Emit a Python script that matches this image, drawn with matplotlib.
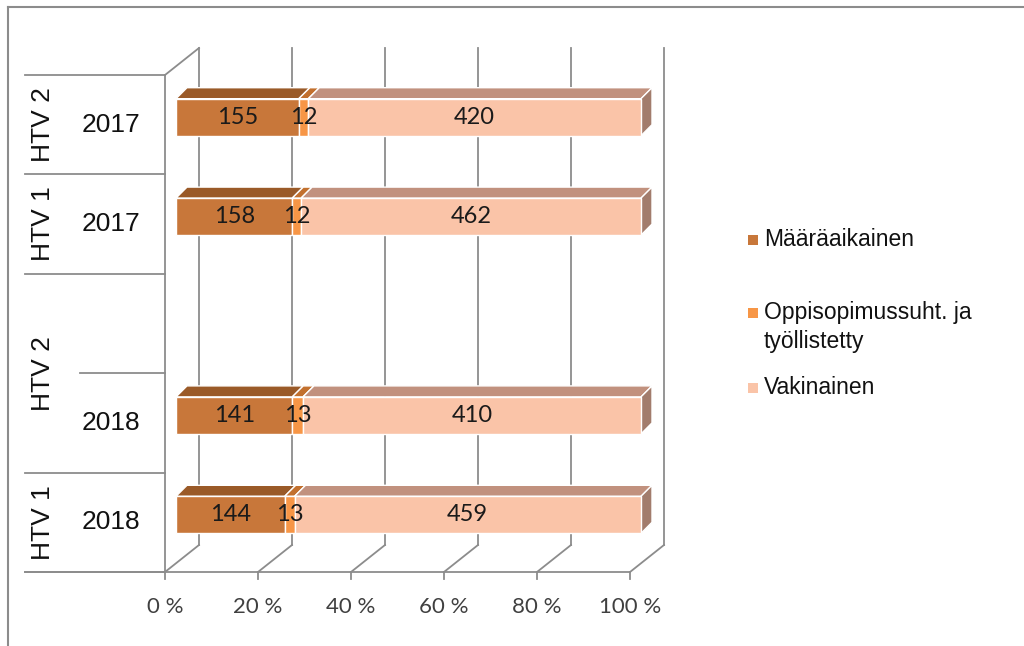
import numpy as np
import matplotlib.pyplot as plt
from matplotlib.patches import Polygon, Rectangle
from matplotlib.lines import Line2D

# categories, top to bottom (the third slot is an empty HTV 2 row)
groups = ["HTV 2", "HTV 1", "HTV 2", "HTV 2", "HTV 1"]
years = ["2017", "2017", "", "2018", "2018"]

series = ["Määräaikainen", "Oppisopimussuht. ja\ntyöllistetty", "Vakinainen"]
maaraaikainen = [155, 158, np.nan, 141, 144]
oppisopimus = [12, 12, np.nan, 13, 13]
vakinainen = [420, 462, np.nan, 410, 459]

pct_ticks = [0, 20, 40, 60, 80, 100]
pct_labels = ["0 %", "20 %", "40 %", "60 %", "80 %", "100 %"]

front_cols = ["#C8773A", "#F79646", "#FAC4A8"]
top_cols = ["#9A5A28", "#C2702E", "#C1917E"]
side_col = "#A27C6C"
grid_col = "#8C8C8C"

W, H = 1024, 646
fig = plt.figure(figsize=(W / 100, H / 100), dpi=100)
ax = fig.add_axes([165 / W, 74 / H, 465 / W, 497 / H])
n = len(years)
ax.set_xlim(0, 100)
ax.set_ylim(0, n)
ax.axis("off")

# pixel -> data unit helpers
DX = 100 / 465
DY = n / 497
wall_dx, wall_dy = 34 * DX, 27 * DY      # full depth of the 3d box
bar_x0, bar_y0 = 11 * DX, 7.5 * DY      # bar front face offset
bar_dx, bar_dy = 11 * DX, 11 * DY       # bar thickness
half_h = 18.5 * DY

line_kw = dict(color=grid_col, lw=1.3, clip_on=False, zorder=1)

# back wall gridlines and floor
for t in pct_ticks:
    ax.plot([t + wall_dx] * 2, [wall_dy, n + wall_dy], **line_kw)
    ax.plot([t, t + wall_dx], [0, wall_dy], **line_kw)
    ax.plot([t, t], [0, -7 * DY], **line_kw)
ax.plot([0, 0], [0, n], **line_kw)
ax.plot([0, wall_dx], [n, n + wall_dy], **line_kw)
ax.plot([-140 * DX, 100], [0, 0], **line_kw)

for t, lab in zip(pct_ticks, pct_labels):
    ax.text(t, -35 * DY, lab, ha="center", va="center", fontsize=16,
            family="Lato", color="#404040")

# category table on the left
for i in range(n + 1):
    y = n - i
    x_start = -140 * DX
    if 0 < i < n and groups[i - 1] == groups[i]:
        x_start = -85 * DX
    ax.plot([x_start, 0], [y, y], **line_kw)

for i, yr in enumerate(years):
    if yr:
        ax.text(-54 * DX, n - i - 0.5, yr, ha="center", va="center",
                fontsize=19, family="Liberation Sans", color="#111111")

i = 0
while i < n:
    j = i
    while j + 1 < n and groups[j + 1] == groups[i]:
        j += 1
    yc = n - (i + j + 1) / 2
    ax.text(-122 * DX, yc, groups[i], ha="center", va="center", rotation=90,
            fontsize=19, family="Liberation Sans", color="#111111")
    i = j + 1

# stacked 100 % bars
data = np.array([maaraaikainen, oppisopimus, vakinainen], dtype=float)
totals = data.sum(axis=0)
for i in range(n):
    if np.isnan(totals[i]):
        continue
    yc = n - i - 0.5 + bar_y0
    yb, yt = yc - half_h, yc + half_h
    left = 0.0
    for k in range(3):
        w = data[k, i] / totals[i] * 100
        x0 = left + bar_x0
        x1 = x0 + w
        ax.add_patch(Polygon([(x0, yt), (x1, yt), (x1 + bar_dx, yt + bar_dy),
                              (x0 + bar_dx, yt + bar_dy)], closed=True,
                             fc=top_cols[k], ec="white", lw=1, zorder=3,
                             clip_on=False))
        ax.add_patch(Rectangle((x0, yb), w, yt - yb, fc=front_cols[k],
                               ec="white", lw=1, zorder=4, clip_on=False))
        if k == 2:
            ax.add_patch(Polygon([(x1, yb), (x1, yt), (x1 + bar_dx, yt + bar_dy),
                                  (x1 + bar_dx, yb + bar_dy)], closed=True,
                                 fc=side_col, ec="white", lw=1, zorder=3,
                                 clip_on=False))
        ax.text((x0 + x1) / 2, yc, f"{int(data[k, i])}", ha="center",
                va="center", fontsize=17, family="Lato", color="#1a1a1a",
                zorder=5)
        left += w

# legend
leg_y = [240, 313, 388]
for lab, col, y in zip(series, front_cols, leg_y):
    fig.add_artist(Rectangle((748 / W, 1 - (y + 5) / H), 10 / W, 10 / H,
                             fc=col, ec="none", transform=fig.transFigure))
    fig.text(764 / W, 1 - (y - 12) / H, lab, ha="left", va="top",
             fontsize=16.5, family="Liberation Sans", color="#111111",
             linespacing=1.35)

# outer frame (top and left edges only)
fig.add_artist(Line2D([8 / W, 1], [1 - 7 / H] * 2, color=grid_col, lw=1.5,
                      transform=fig.transFigure))
fig.add_artist(Line2D([8 / W] * 2, [0, 1 - 7 / H], color=grid_col, lw=1.5,
                      transform=fig.transFigure))

fig.savefig("out.png", dpi=100, facecolor="white")
